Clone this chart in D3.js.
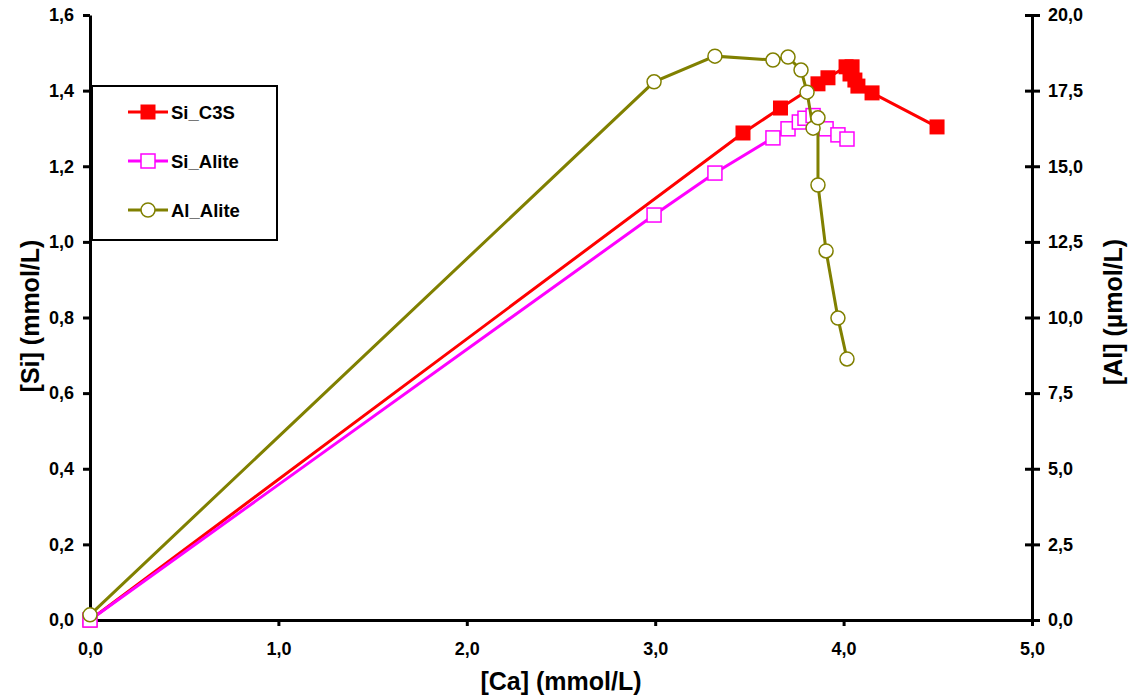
<!DOCTYPE html>
<html><head><meta charset="utf-8">
<script src="https://cdn.jsdelivr.net/npm/d3@7"></script>
<style>body{margin:0;background:#fff}svg{display:block}text{font-family:Arial,"Liberation Sans",sans-serif;font-weight:bold}</style>
</head><body><svg id="c" width="1128" height="699"></svg>
<script>
// Data
const c3sCa = [0, 3.466, 3.665, 3.864, 3.917, 4.013, 4.045, 4.034, 4.060, 4.076, 4.151, 4.496];
const c3sSi = [0, 1.288, 1.354, 1.418, 1.434, 1.463, 1.463, 1.444, 1.428, 1.412, 1.394, 1.304];
const aliteSiCa = [0, 2.994, 3.317, 3.625, 3.705, 3.765, 3.795, 3.838, 3.907, 3.970, 4.018];
const aliteSi   = [0, 1.071, 1.182, 1.275, 1.299, 1.317, 1.327, 1.334, 1.299, 1.283, 1.272];
const aliteAlCa = [0, 2.994, 3.317, 3.625, 3.705, 3.774, 3.806, 3.838, 3.864, 3.864, 3.907, 3.970, 4.018];
const aliteAl   = [0.17, 17.79, 18.64, 18.51, 18.61, 18.18, 17.45, 16.26, 16.60, 14.38, 12.20, 9.98, 8.63];
const xTicks = [0, 1, 2, 3, 4, 5];
const ySiTicks = [0, 0.2, 0.4, 0.6, 0.8, 1.0, 1.2, 1.4, 1.6];
const yAlTicks = [0, 2.5, 5, 7.5, 10, 12.5, 15, 17.5, 20];
const legendNames = ["Si_C3S", "Si_Alite", "Al_Alite"];

const svg = d3.select("#c");
const L = 90, R = 1032, T = 15, B = 620;
const x = d3.scaleLinear().domain([0, 5]).range([L, R]);
const yS = d3.scaleLinear().domain([0, 1.6]).range([B, T]);
const yA = d3.scaleLinear().domain([0, 20]).range([B, T]);
const fmt = v => d3.format(".1f")(v).replace(".", ",");

// axes
const gx = svg.append("g").attr("transform", `translate(0,${B})`)
  .call(d3.axisBottom(x).tickValues(xTicks).tickFormat(fmt).tickSize(6).tickPadding(16).tickSizeOuter(0));
const gy = svg.append("g").attr("transform", `translate(${L},0)`)
  .call(d3.axisLeft(yS).tickValues(ySiTicks).tickFormat(fmt).tickSize(7).tickPadding(9).tickSizeOuter(0));
const gr = svg.append("g").attr("transform", `translate(${R},0)`)
  .call(d3.axisRight(yA).tickValues(yAlTicks).tickFormat(fmt).tickSize(8).tickPadding(8).tickSizeOuter(0));
gr.selectAll(".tick line").attr("x1", -7);
[gx, gy, gr].forEach(g => {
  g.select(".domain").attr("stroke", "#000").attr("stroke-width", 3);
  g.selectAll(".tick line").attr("stroke", "#000").attr("stroke-width", 3);
  g.selectAll(".tick text").attr("fill", "#000").style("font-size", "18px").style("font-weight", "bold");
});

// series
function series(xs, ys, yScale, color, marker) {
  const pts = xs.map((v, i) => [x(v), yScale(ys[i])]);
  svg.append("path").attr("d", d3.line()(pts)).attr("fill", "none")
    .attr("stroke", color).attr("stroke-width", 3);
  const g = svg.append("g");
  pts.forEach(p => drawMarker(g, p[0], p[1], color, marker));
}
function drawMarker(g, cx, cy, color, marker) {
  if (marker === "fsq") {
    g.append("rect").attr("x", cx - 7.5).attr("y", cy - 7.5).attr("width", 15).attr("height", 15).attr("fill", color);
  } else if (marker === "osq") {
    g.append("rect").attr("x", cx - 7).attr("y", cy - 7).attr("width", 14).attr("height", 14)
      .attr("fill", "#fff").attr("stroke", color).attr("stroke-width", 1.5);
  } else {
    g.append("circle").attr("cx", cx).attr("cy", cy).attr("r", 7)
      .attr("fill", "#fff").attr("stroke", color).attr("stroke-width", 1.5);
  }
}
const colors = ["#FF0000", "#FF00FF", "#808000"];
series(c3sCa, c3sSi, yS, colors[0], "fsq");
series(aliteSiCa, aliteSi, yS, colors[1], "osq");
series(aliteAlCa, aliteAl, yA, colors[2], "circ");

// legend
const lg = svg.append("g");
lg.append("rect").attr("x", 92).attr("y", 86).attr("width", 185).attr("height", 154)
  .attr("fill", "#fff").attr("stroke", "#000").attr("stroke-width", 2);
const markers = ["fsq", "osq", "circ"];
const rowsY = [112, 161, 210];
legendNames.forEach((n, i) => {
  lg.append("line").attr("x1", 128).attr("x2", 168).attr("y1", rowsY[i]).attr("y2", rowsY[i])
    .attr("stroke", colors[i]).attr("stroke-width", 3);
  drawMarker(lg, 148, rowsY[i], colors[i], markers[i]);
  lg.append("text").attr("x", 171).attr("y", rowsY[i]).attr("dy", "0.36em")
    .style("font-size", "18.5px").text(n);
});

// axis titles
svg.append("text").attr("x", 561).attr("y", 690).attr("text-anchor", "middle")
  .style("font-size", "25px").text("[Ca] (mmol/L)");
svg.append("text").attr("transform", "translate(39,316) rotate(-90)").attr("text-anchor", "middle")
  .style("font-size", "25px").text("[Si] (mmol/L)");
svg.append("text").attr("transform", "translate(1122,312) rotate(-90)").attr("text-anchor", "middle")
  .style("font-size", "25px").text("[Al] (µmol/L)");
</script></body></html>
